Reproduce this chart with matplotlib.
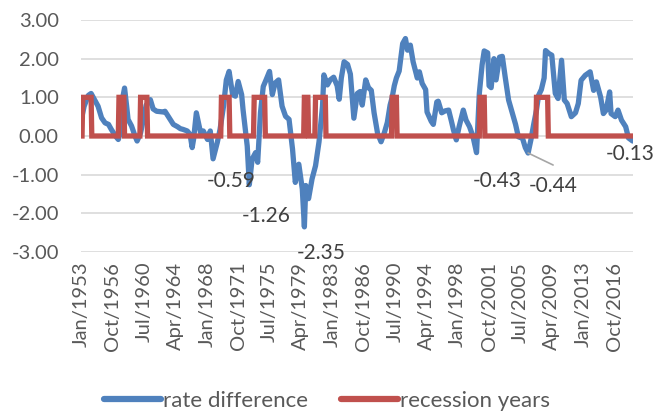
import matplotlib
matplotlib.use("Agg")
import matplotlib.pyplot as plt
from matplotlib.lines import Line2D

# ---------------- data ----------------
rate_dates = [
    "1953-01", "1953-05", "1953-11", "1954-03", "1954-09", "1955-01", "1955-06", "1955-11",
    "1956-04", "1956-08", "1957-02", "1957-06", "1957-09", "1957-10", "1958-03", "1958-06",
    "1958-08", "1959-01", "1959-06", "1959-09", "1960-02", "1960-06", "1960-10", "1961-04",
    "1961-08", "1962-01", "1962-06", "1962-11", "1963-01", "1963-06", "1964-01", "1964-07",
    "1964-11", "1965-03", "1965-09", "1966-01", "1966-04", "1966-06", "1966-10", "1967-01",
    "1967-04", "1967-08", "1968-02", "1968-06", "1968-10", "1969-04", "1969-08", "1970-01",
    "1970-05", "1970-09", "1971-02", "1971-06", "1971-10", "1972-03", "1972-05", "1972-11",
    "1973-02", "1973-06", "1973-11", "1974-02", "1974-06", "1974-10", "1975-02", "1975-07",
    "1975-11", "1976-03", "1976-08", "1977-01", "1977-06", "1977-11", "1978-04", "1978-08",
    "1979-01", "1979-06", "1979-09", "1979-11", "1980-03", "1980-08", "1981-01", "1981-06",
    "1981-11", "1982-01", "1982-06", "1982-10", "1983-03", "1983-08", "1983-11", "1984-02",
    "1984-06", "1984-11", "1985-03", "1985-08", "1986-01", "1986-05", "1986-08", "1987-01",
    "1987-05", "1987-09", "1988-01", "1988-06", "1988-11", "1989-04", "1989-08", "1989-12",
    "1990-03", "1990-06", "1990-09", "1991-01", "1991-06", "1991-10", "1992-01", "1992-05",
    "1992-09", "1993-03", "1993-06", "1993-10", "1994-03", "1994-05", "1994-11", "1995-02",
    "1995-07", "1995-09", "1996-02", "1996-07", "1996-12", "1997-04", "1997-07", "1997-11",
    "1998-03", "1998-09", "1999-01", "1999-06", "1999-11", "2000-04", "2000-08", "2000-12",
    "2001-03", "2001-08", "2001-10", "2002-01", "2002-05", "2002-08", "2003-01", "2003-05",
    "2003-09", "2004-02", "2004-07", "2004-12", "2005-04", "2005-10", "2006-02", "2006-06",
    "2006-10", "2007-02", "2007-06", "2007-09", "2008-01", "2008-05", "2008-07", "2008-12",
    "2009-04", "2009-09", "2010-01", "2010-06", "2010-10", "2011-02", "2011-08", "2012-02",
    "2012-06", "2012-10", "2013-04", "2013-11", "2014-04", "2014-08", "2015-02", "2015-06",
    "2015-10", "2016-03", "2016-05", "2016-11", "2017-03", "2017-08", "2018-02", "2018-06",
    "2018-12",
]
rate_difference = [
    0.43, 0.77, 1.05, 1.10, 0.90, 0.77, 0.47, 0.34,
    0.30, 0.17, 0.00, -0.09, 0.08, 0.77, 1.24, 0.77,
    0.43, 0.26, 0.00, -0.13, 0.08, 0.43, 0.80, 0.94,
    0.70, 0.64, 0.63, 0.62, 0.64, 0.50, 0.30, 0.24,
    0.19, 0.17, 0.13, 0.04, -0.30, -0.09, 0.60, 0.34,
    0.09, 0.13, -0.09, 0.13, -0.59, -0.17, 0.17, 0.77,
    1.45, 1.67, 1.07, 1.03, 1.41, 1.07, 0.68, -0.26,
    -1.26, -0.60, -0.43, -0.68, 0.60, 1.28, 1.45, 1.67,
    1.07, 1.37, 1.45, 0.77, 0.51, 0.43, -0.34, -1.20,
    -0.73, -1.37, -2.35, -1.28, -1.62, -1.11, -0.77, -0.15,
    0.77, 1.58, 1.32, 1.45, 1.52, 1.30, 0.95, 1.50,
    1.92, 1.85, 1.60, 0.46, 1.10, 1.15, 0.80, 1.45,
    1.25, 1.18, 0.60, 0.07, -0.15, 0.10, 0.35, 0.80,
    1.00, 1.30, 1.50, 1.68, 2.39, 2.52, 2.22, 2.35,
    1.92, 1.50, 1.66, 1.36, 1.20, 0.62, 0.38, 0.30,
    0.88, 0.90, 0.60, 0.65, 0.67, 0.38, 0.15, -0.10,
    0.24, 0.67, 0.41, 0.24, -0.02, -0.43, 1.10, 1.84,
    2.20, 2.15, 1.30, 1.25, 2.00, 1.45, 2.04, 2.06,
    1.54, 0.93, 0.62, 0.30, -0.02, -0.06, -0.30, -0.44,
    -0.10, 0.30, 0.67, 1.05, 1.20, 1.50, 2.21, 2.13,
    2.09, 1.10, 0.97, 1.96, 0.93, 0.84, 0.50, 0.60,
    0.84, 1.44, 1.57, 1.66, 1.18, 1.40, 1.01, 0.58,
    0.67, 1.14, 0.58, 0.50, 0.67, 0.41, 0.24, -0.05,
    -0.13,
]

recession_start = ["1953-03", "1957-07", "1960-02", "1969-10", "1973-09",
                   "1979-09", "1981-01", "1990-03", "2000-09", "2007-06"]
recession_end = ["1954-03", "1958-02", "1960-11", "1970-09", "1974-12",
                 "1980-02", "1982-03", "1990-09", "2001-03", "2008-10"]

first_month = "1953-01"
last_month = "2018-12"
tick_step_months = 45

label_dates = ["1968-10", "1973-02", "1979-09", "2000-04", "2006-06", "2018-12"]
label_values = [-0.59, -1.26, -2.35, -0.43, -0.44, -0.13]

series_names = ["rate difference", "recession years"]

# ---------------- helpers ----------------
MONTHS = ["Jan", "Feb", "Mar", "Apr", "May", "Jun",
          "Jul", "Aug", "Sep", "Oct", "Nov", "Dec"]


def midx(s):
    y, m = s.split("-")
    y0, m0 = first_month.split("-")
    return (int(y) - int(y0)) * 12 + int(m) - int(m0)


n_months = midx(last_month) + 1
rate_x = [midx(d) for d in rate_dates]

rec_x = list(range(n_months))
rec_y = [0] * n_months
for s, e in zip(recession_start, recession_end):
    for i in range(midx(s), midx(e) + 1):
        rec_y[i] = 1

tick_pos = list(range(0, n_months, tick_step_months))
tick_lab = []
for p in tick_pos:
    y0 = int(first_month.split("-")[0])
    tick_lab.append(f"{MONTHS[p % 12]}/{y0 + p // 12}")

# ---------------- figure ----------------
plt.rcParams["font.family"] = ["Lato", "DejaVu Sans"]
TXT = "#595959"
BLUE = "#4F81BD"
RED = "#C0504D"
FS = 14.5

fig = plt.figure(figsize=(6.54, 4.11), dpi=100)
ax = fig.add_axes([81 / 654, 1 - 252 / 411, (633 - 81) / 654, (252 - 20) / 411])

ax.plot(rate_x, rate_difference, color=BLUE, lw=3.8, solid_joinstyle="round",
        solid_capstyle="round", zorder=3)
ax.plot(rec_x, rec_y, color=RED, lw=3.8, solid_joinstyle="miter", zorder=4)

ax.set_xlim(-0.5, n_months - 0.5)
ax.set_ylim(-3, 3)
ax.set_yticks([-3, -2, -1, 0, 1, 2, 3])
ax.set_yticklabels([f"{v:.2f}" for v in [-3, -2, -1, 0, 1, 2, 3]])
ax.set_xticks(tick_pos)
ax.set_xticklabels(tick_lab, rotation=90)
ax.tick_params(axis="both", length=0, colors=TXT, labelsize=FS)
ax.tick_params(axis="x", pad=7)
ax.tick_params(axis="y", pad=16)
ax.grid(axis="y", color="#d9d9d9", lw=1.2, zorder=0)
ax.set_axisbelow(True)
for sp in ax.spines.values():
    sp.set_visible(False)

# data labels
offsets = [(18, -22), (17, -31), (17, -26), (21, -28), (25, -33), (-2, -13)]
for d, v, off in zip(label_dates, label_values, offsets):
    xi = midx(d)
    ax.annotate(f"{v:.2f}", xy=(xi, v), xytext=off, textcoords="offset pixels",
                ha="center", va="center", fontsize=15, color="#404040",
                annotation_clip=False, zorder=6)
# leader line for -0.44
xi = midx(label_dates[4])
ax.annotate("", xy=(xi, label_values[4]), xytext=(25, -12), textcoords="offset pixels",
            arrowprops=dict(arrowstyle="-", color="#a6a6a6", lw=1.2,
                            shrinkA=0, shrinkB=0), zorder=5)

handles = [Line2D([0], [0], color=BLUE, lw=4.5, solid_capstyle="round"),
           Line2D([0], [0], color=RED, lw=4.5, solid_capstyle="round")]
fig.legend(handles, series_names, loc="center", bbox_to_anchor=(0.5, 1 - 401 / 411),
           ncol=2, frameon=False, fontsize=16, labelcolor=TXT,
           handlelength=2.55, handletextpad=0.1, columnspacing=1.5)

fig.savefig("out.png", dpi=100)
